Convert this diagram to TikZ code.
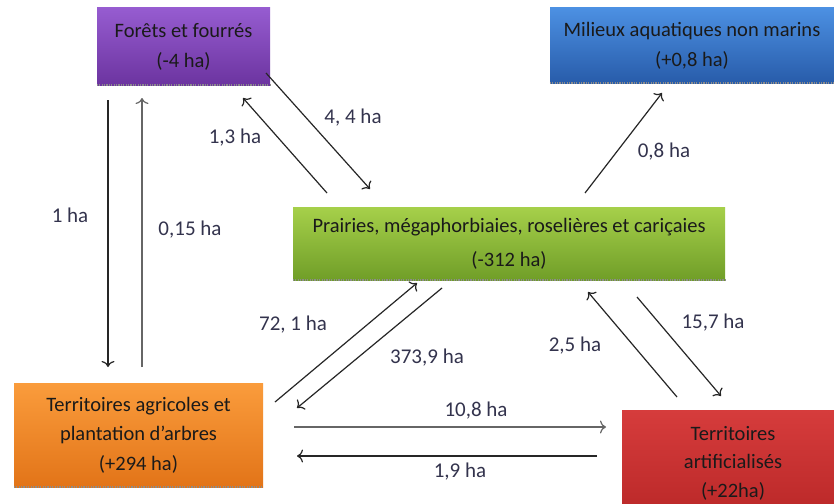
\documentclass[tikz,border=0pt]{standalone}
\usepackage{fontspec}
\setmainfont{Carlito}
\usetikzlibrary{arrows.meta}
\definecolor{lbl}{HTML}{33334D}
\definecolor{txt}{HTML}{1A1A1A}
\tikzset{
  box/.style={rectangle, inner sep=0pt, align=center, text=txt, font=\fontsize{20.5}{30}\selectfont},
  lab/.style={text=lbl, font=\fontsize{21}{24}\selectfont, inner sep=0pt},
  flow/.style={draw=black!85, line width=1.2pt, -{To[length=6pt,width=13pt,line width=1.2pt]}},
  flowg/.style={flow, draw=black!60},
  dotbottom/.style={draw=black!45, line width=2pt, dash pattern=on 1.2pt off 1.2pt}
}
\begin{document}
\begin{tikzpicture}[x=1pt,y=-1pt]
\clip (0,0) rectangle (834,503);
\fill[white] (0,0) rectangle (834,503);
% boxes
\node[box, minimum width=173pt, minimum height=77pt, top color={rgb,255:red,150;green,92;blue,208}, bottom color={rgb,255:red,108;green,52;blue,160}] (foret) at (183.5,46.5) {Forêts et fourrés\\(-4 ha)};
\node[box, minimum width=284pt, minimum height=75pt, top color={rgb,255:red,76;green,144;blue,226}, bottom color={rgb,255:red,40;green,92;blue,170}] (eau) at (692,45.5) {Milieux aquatiques non marins\\(+0,8 ha)};
\node[box, minimum width=432pt, minimum height=73pt, font=\fontsize{20.5}{34}\selectfont, top color={rgb,255:red,166;green,208;blue,74}, bottom color={rgb,255:red,112;green,158;blue,40}] (prairie) at (509,243.5) {Prairies, mégaphorbiaies, roselières et cariçaies\\(-312 ha)};
\node[box, minimum width=249pt, minimum height=104pt, font=\fontsize{20.5}{29.5}\selectfont, top color={rgb,255:red,250;green,156;blue,60}, bottom color={rgb,255:red,226;green,116;blue,24}] (agri) at (138.5,435) {Territoires agricoles et\\plantation d’arbres\\(+294 ha)};
\node[box, minimum width=222pt, minimum height=106pt, font=\fontsize{20.5}{28.5}\selectfont, top color={rgb,255:red,214;green,60;blue,60}, bottom color={rgb,255:red,186;green,40;blue,40}] (artif) at (733,463) {Territoires\\artificialisés\\(+22ha)};
\draw[dotbottom] (foret.south west) -- (foret.south east);
\draw[dotbottom] (eau.south west) -- (eau.south east);
\draw[dotbottom] (prairie.south west) -- (prairie.south east);
\draw[dotbottom] (agri.south west) -- (agri.south east);
% arrow end points
\coordinate (a1s) at (108,100); \coordinate (a1e) at (108,367);
\coordinate (a2s) at (142,367); \coordinate (a2e) at (142,98);
\coordinate (a3s) at (327,193); \coordinate (a3e) at (243,98);
\coordinate (a4s) at (266,73);  \coordinate (a4e) at (370,189);
\coordinate (a5s) at (585,193); \coordinate (a5e) at (662,93);
\coordinate (a6s) at (275,402); \coordinate (a6e) at (417,283);
\coordinate (a7s) at (442,288); \coordinate (a7e) at (297,408);
\coordinate (a8s) at (677,397); \coordinate (a8e) at (588,292);
\coordinate (a9s) at (637,297); \coordinate (a9e) at (721,396);
\coordinate (a10s) at (294,427); \coordinate (a10e) at (606,427);
\coordinate (a11s) at (597,456); \coordinate (a11e) at (297,456);
% arrows
\draw[flow] (a1s) -- (a1e);
\draw[flowg] (a2s) -- (a2e);
\draw[flow] (a3s) -- (a3e);
\draw[flow] (a4s) -- (a4e);
\draw[flow] (a5s) -- (a5e);
\draw[flow] (a6s) -- (a6e);
\draw[flow] (a7s) -- (a7e);
\draw[flow] (a8s) -- (a8e);
\draw[flow] (a9s) -- (a9e);
\draw[flowg] (a10s) -- (a10e);
\draw[flow] (a11s) -- (a11e);
% labels
\node[lab] (l1) at (70,215) {1 ha};
\node[lab] (l2) at (190,230) {0,15 ha};
\node[lab] (l3) at (235,138) {1,3 ha};
\node[lab] (l4) at (353,118) {4, 4 ha};
\node[lab] (l5) at (664,152) {0,8 ha};
\node[lab] (l6) at (293,325) {72, 1 ha};
\node[lab] (l7) at (427,358) {373,9 ha};
\node[lab] (l8) at (575,346) {2,5 ha};
\node[lab] (l9) at (713,323) {15,7 ha};
\node[lab] (l10) at (476,411) {10,8 ha};
\node[lab] (l11) at (460,472) {1,9 ha};
\end{tikzpicture}
\end{document}
